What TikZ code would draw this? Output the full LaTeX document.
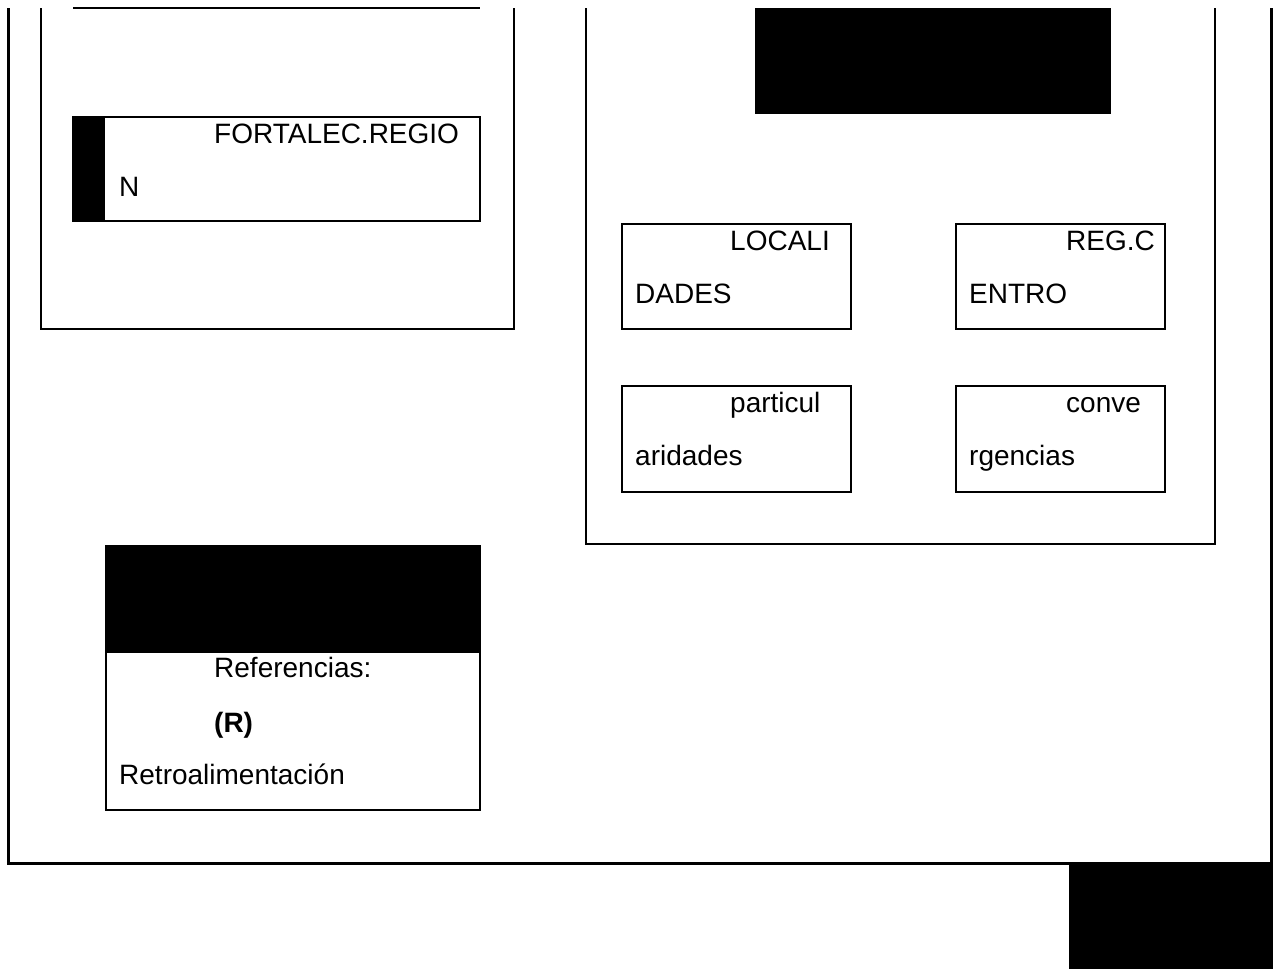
\documentclass[tikz,border=0pt]{standalone}
\usepackage{fontspec}
\setmainfont{Liberation Sans}
\usetikzlibrary{positioning}

\tikzset{
  panel/.style={line width=2pt},
  cajon/.style={draw, line width=2pt, rectangle, inner sep=0pt},
  tapa/.style={fill=black},
  txt/.style={inner sep=0pt, font=\fontsize{28}{53}\selectfont},
}

\begin{document}
\begin{tikzpicture}[x=1pt, y=-1pt]
  \fill[white] (0,0) rectangle (1278,969);
  \useasboundingbox (0,0) rectangle (1278,969);

  % marco exterior
  \draw[line width=3pt] (8.5,8) -- (8.5,863) -- (1271,863) -- (1271,8);
  \fill[tapa] (1069,865) rectangle (1273,969);

  % panel izquierdo
  \draw[panel] (41,8) -- (41,329) -- (514,329) -- (514,8);
  \draw[panel] (73,8) -- (480,8);
  \node[cajon, minimum width=407pt, minimum height=104pt] (fort) at (276.5,169) {};
  \fill[tapa] (72,116) rectangle (105,222);
  \node[txt, below right=27pt and 142pt of fort.north west, anchor=base west] (fort1) {FORTALEC.REGIO};
  \node[txt, below right=80pt and 47pt of fort.north west, anchor=base west] (fort2) {N};

  % panel derecho
  \draw[panel] (586,8) -- (586,544) -- (1215,544) -- (1215,8);
  \fill[tapa] (755,8) rectangle (1111,114);
  \node[cajon, minimum width=229pt, minimum height=105pt] (loc) at (736.5,276.5) {};
  \node[cajon, minimum width=209pt, minimum height=105pt, right=103pt of loc] (reg) {};
  \node[cajon, minimum width=229pt, minimum height=106pt, below=55pt of loc] (par) {};
  \node[cajon, minimum width=209pt, minimum height=106pt, below=55pt of reg] (con) {};
  \node[txt, below right=27pt and 109pt of loc.north west, anchor=base west] (loc1) {LOCALI};
  \node[txt, below right=80pt and 14pt of loc.north west, anchor=base west] (loc2) {DADES};
  \node[txt, below right=27pt and 111pt of reg.north west, anchor=base west] (reg1) {REG.C};
  \node[txt, below right=80pt and 14pt of reg.north west, anchor=base west] (reg2) {ENTRO};
  \node[txt, below right=27pt and 109pt of par.north west, anchor=base west] (par1) {particul};
  \node[txt, below right=80pt and 14pt of par.north west, anchor=base west] (par2) {aridades};
  \node[txt, below right=27pt and 111pt of con.north west, anchor=base west] (con1) {conve};
  \node[txt, below right=80pt and 14pt of con.north west, anchor=base west] (con2) {rgencias};

  % referencias
  \fill[tapa] (105,545) rectangle (481,652);
  \node[cajon, minimum width=374pt, minimum height=158pt] (ref) at (293,731) {};
  \node[txt, below right=26pt and 109pt of ref.north west, anchor=base west] (ref1) {Referencias:};
  \node[txt, below right=81pt and 109pt of ref.north west, anchor=base west] (ref2) {\bfseries (R)};
  \node[txt, below right=133pt and 14pt of ref.north west, anchor=base west] (ref3) {Retroalimentación};
\end{tikzpicture}
\end{document}
